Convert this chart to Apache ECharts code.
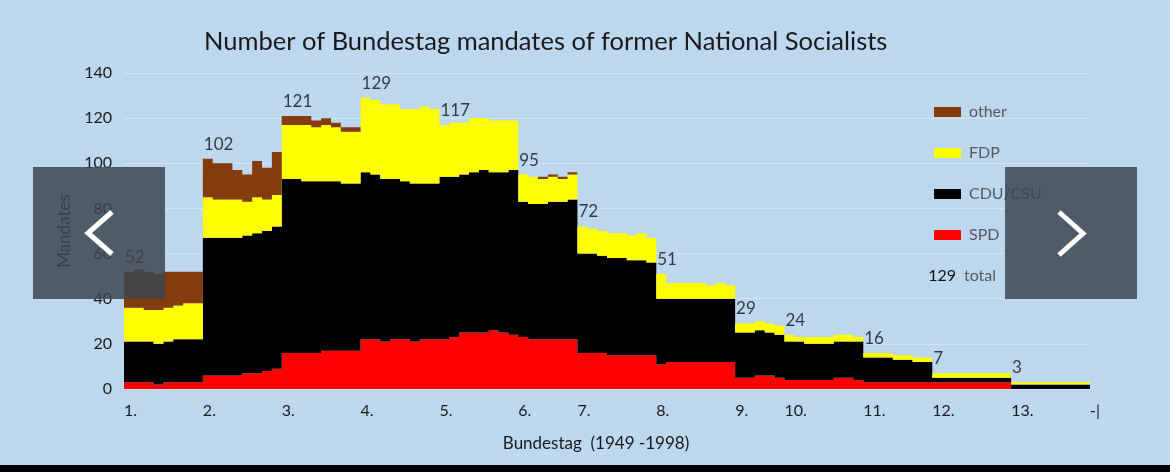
<!DOCTYPE html>
<html>
<head>
<meta charset="utf-8">
<script src="https://cdn.jsdelivr.net/npm/echarts@6/dist/echarts.min.js"></script>
<style>
html,body{margin:0;padding:0;background:#BDD7EE;}
#c{width:1170px;height:472px;}
</style>
</head>
<body>
<div id="c"></div>
<script>
// Bundestag terms (x-axis tick labels) and number of half-year steps per term
const termLabels = ['1.','2.','3.','4.','5.','6.','7.','8.','9.','10.','11.','12.','13.'];
const endLabel = '-|';
const termSteps = [8,8,8,8,8,6,8,8,5,8,7,8,8];

// Mandates of former National Socialists per party (half-year steps)
const spd = [
  3,3,3,2,3,3,3,3,
  6,6,6,6,7,7,8,9,
  16,16,16,16,17,17,17,17,
  22,22,21,22,22,21,22,22,
  22,23,25,25,25,26,25,24,
  23,22,22,22,22,22,
  16,16,16,15,15,15,15,15,
  11,12,12,12,12,12,12,12,
  5,5,6,6,5,
  4,4,4,4,4,5,5,4,
  3,3,3,3,3,3,3,
  3,3,3,3,3,3,3,3,
  0,0,0,0,0,0,0,0
];
const cdu = [
  18,18,18,18,18,19,19,19,
  61,61,61,61,61,62,62,63,
  77,77,76,76,75,75,74,74,
  74,73,72,71,70,70,69,69,
  72,71,70,71,72,70,71,73,
  60,60,60,61,61,62,
  44,44,43,43,43,42,42,41,
  29,28,28,28,28,28,28,28,
  20,20,20,19,19,
  17,17,16,16,16,16,16,17,
  11,11,11,10,10,9,9,
  2,2,2,2,2,2,2,2,
  2,2,2,2,2,2,2,2
];
const fdp = [
  15,15,14,15,15,15,16,16,
  18,17,17,17,15,16,14,14,
  24,24,25,24,25,24,23,23,
  33,33,33,33,32,33,34,33,
  23,24,23,24,23,23,23,22,
  12,12,11,11,10,11,
  12,11,11,11,11,11,12,11,
  11,7,7,7,7,6,7,6,
  4,4,4,4,4,
  3,2,3,3,3,3,3,2,
  2,2,2,2,2,2,2,
  2,2,2,2,2,2,2,2,
  1,1,1,1,1,1,1,1
];
const other = [
  16,17,17,16,16,15,14,14,
  17,16,16,13,12,16,14,19,
  4,4,4,3,3,2,2,2,
  0,0,0,0,0,0,0,0,
  0,0,0,0,0,0,0,0,
  0,0,1,1,1,1,
  0,0,0,0,0,0,0,0,
  0,0,0,0,0,0,0,0,
  0,0,0,0,0,
  0,0,0,0,0,0,0,0,
  0,0,0,0,0,0,0,
  0,0,0,0,0,0,0,0,
  0,0,0,0,0,0,0,0
];

const n = spd.length;
const starts = [];
let acc = 0;
termSteps.forEach(s => { starts.push(acc); acc += s; });
const cats = [];
for (let i = 0; i <= n; i++) {
  const k = starts.indexOf(i);
  cats.push(k >= 0 ? termLabels[k] : (i === n ? endLabel : ''));
}
const ext = a => a.concat([a[a.length - 1]]);
const totalAt = i => spd[i] + cdu[i] + fdp[i] + other[i];
const totals = starts.map(i => [i, totalAt(i)]);
let maxTotal = 0;
for (let i = 0; i < n; i++) maxTotal = Math.max(maxTotal, totalAt(i));

const FONT = 'Lato';
function area(name, data, color) {
  return {
    name: name, type: 'line', stack: 'm', step: 'end', symbol: 'none',
    data: ext(data), lineStyle: { width: 0 }, itemStyle: { color: color },
    areaStyle: { color: color, opacity: 1 }, animation: false, z: 2
  };
}

const chart = echarts.init(document.getElementById('c'));
chart.setOption({
  backgroundColor: '#BDD7EE',
  textStyle: { fontFamily: FONT },
  animation: false,
  title: {
    text: 'Number of Bundestag mandates of former National Socialists',
    left: 204, top: 29, padding: 0,
    textStyle: { fontFamily: FONT, fontSize: 25.5, fontWeight: 'normal', color: '#1a1a1a' }
  },
  grid: { left: 124, right: 80, top: 73, bottom: 83 },
  legend: {
    data: ['other', 'FDP', 'CDU/CSU', 'SPD'],
    orient: 'vertical', left: 929, top: 99, itemGap: 25,
    itemWidth: 27, itemHeight: 10, icon: 'rect',
    textStyle: { fontFamily: FONT, fontSize: 16, color: '#595959', padding: [0, 0, 0, 3] }
  },
  xAxis: {
    type: 'category', boundaryGap: false, data: cats,
    axisLine: { show: false }, axisTick: { show: false },
    axisLabel: { interval: (i, v) => v !== '', align: 'left', fontSize: 16, color: '#1a1a1a', margin: 14 },
    name: 'Bundestag  (1949 -1998)', nameLocation: 'middle', nameGap: 46,
    nameTextStyle: { fontSize: 17, color: '#1a1a1a', padding: [0, 22, 0, 0] }
  },
  yAxis: {
    type: 'value', min: 0, max: 140, interval: 20,
    axisLine: { show: false }, axisTick: { show: false },
    axisLabel: { fontSize: 16, color: '#1a1a1a', margin: 12 },
    splitLine: { lineStyle: { color: '#D2E3F3', width: 1 } },
    name: 'Mandates', nameLocation: 'middle', nameGap: 48,
    nameTextStyle: { fontSize: 17, color: '#1a1a1a' }
  },
  series: [
    area('SPD', spd, '#FF0000'),
    area('CDU/CSU', cdu, '#000000'),
    area('FDP', fdp, '#FFFF00'),
    area('other', other, '#843C0C'),
    {
      name: 'total', type: 'scatter', data: totals, symbolSize: 0.1,
      itemStyle: { color: 'rgba(0,0,0,0)' }, z: 5,
      label: { show: true, position: [1, -23], fontSize: 17, color: '#111', fontFamily: FONT,
               formatter: p => p.value[1] }
    }
  ],
  graphic: [
    { type: 'text', z: 50, style: { text: String(maxTotal), x: 956, y: 276, align: 'right', verticalAlign: 'middle', fontFamily: FONT, fontSize: 16, fill: '#111' } },
    { type: 'text', z: 50, style: { text: 'total', x: 964, y: 276, align: 'left', verticalAlign: 'middle', fontFamily: FONT, fontSize: 16, fill: '#595959' } },
    { type: 'rect', z: 100, shape: { x: 33, y: 167, width: 132, height: 132 }, style: { fill: 'rgba(61,70,80,0.86)' } },
    { type: 'rect', z: 100, shape: { x: 1005, y: 167, width: 132, height: 132 }, style: { fill: 'rgba(61,70,80,0.86)' } },
    { type: 'polyline', z: 101, shape: { points: [[112, 212], [88, 233], [112, 254]] }, style: { stroke: '#fff', lineWidth: 5, fill: null } },
    { type: 'polyline', z: 101, shape: { points: [[1059, 212], [1083, 233.5], [1059, 255]] }, style: { stroke: '#fff', lineWidth: 5, fill: null } },
    { type: 'rect', z: 100, shape: { x: 0, y: 465, width: 1170, height: 7 }, style: { fill: '#000' } }
  ]
});
</script>
</body>
</html>
